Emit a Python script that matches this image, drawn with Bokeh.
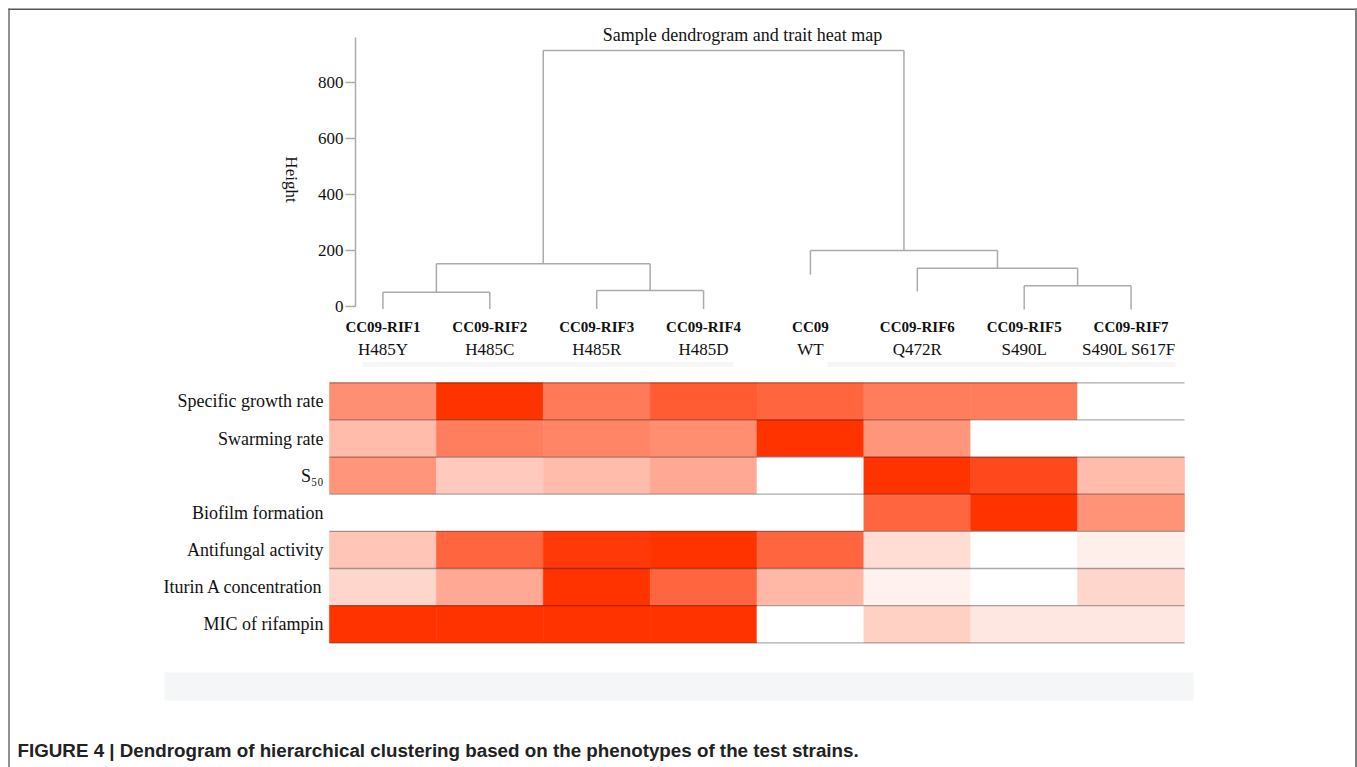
import numpy as np
from bokeh.plotting import figure
from bokeh.models import ColumnDataSource, Range1d, LinearAxis, FixedTicker, LinearColorMapper
from bokeh.core.properties import value
from bokeh.embed import file_html
from bokeh.resources import INLINE

# ---------------- data ----------------
strains = ["CC09-RIF1", "CC09-RIF2", "CC09-RIF3", "CC09-RIF4", "CC09",
           "CC09-RIF6", "CC09-RIF5", "CC09-RIF7"]
mutations = ["H485Y", "H485C", "H485R", "H485D", "WT", "Q472R", "S490L", "S490L  S617F"]
traits = ["Specific growth rate", "Swarming rate", "S\u2085\u2080", "Biofilm formation",
          "Antifungal activity", "Iturin A concentration", "MIC of rifampin"]

# relative trait intensity (0 = white, 1 = full red), columns follow `strains`
growth_rate = [0.55, 1.00, 0.65, 0.80, 0.75, 0.64, 0.64, 0.00]
swarming_rate = [0.33, 0.63, 0.60, 0.56, 1.00, 0.52, 0.00, 0.00]
s50 = [0.52, 0.26, 0.33, 0.42, 0.00, 1.00, 0.89, 0.33]
biofilm = [0.00, 0.00, 0.00, 0.00, 0.00, 0.75, 1.00, 0.53]
antifungal = [0.28, 0.75, 0.97, 1.00, 0.75, 0.17, 0.00, 0.08]
iturin_a = [0.20, 0.42, 1.00, 0.75, 0.35, 0.07, 0.00, 0.20]
mic_rifampin = [1.00, 1.00, 1.00, 1.00, 0.00, 0.23, 0.12, 0.12]
trait_values = [growth_rate, swarming_rate, s50, biofilm, antifungal, iturin_a, mic_rifampin]

# dendrogram (leaves 0..7 = strains in order; new nodes numbered from 8)
merge_left = [0, 2, 8, 6, 5, 4, 10]
merge_right = [1, 3, 9, 7, 11, 12, 13]
merge_height = [51, 57, 153, 74, 137, 200, 916]
leaf_tip = [-9, -9, -9, -9, 114, 54, -11, -11]
height_ticks = [0, 200, 400, 600, 800]

# ---------------- geometry (page pixels) ----------------
W, H = 1357, 767
OFF = 0
SX = 106.875          # px per column
SY = 37.14            # px per heatmap row
SH = 0.2796           # px per height unit
x_start = -0.5 - (329 - OFF) / SX
x_end = x_start + W / SX
n_rows = len(traits)
y_end = (n_rows - 0.5) + (382.3 - OFF) / SY
y_start = y_end - H / SY
h_end = (306 - OFF) / SH
h_start = h_end - H / SH


def X(px):
    return x_start + (px - OFF) / SX


def Y(py):
    return y_end - (py - OFF) / SY


p = figure(width=W, height=H, output_backend="svg", toolbar_location=None,
           x_axis_type=None, y_axis_type=None,
           x_range=Range1d(x_start, x_end), y_range=Range1d(y_start, y_end),
           min_border=0, min_border_left=0, min_border_right=0,
           min_border_top=0, min_border_bottom=0)
p.outline_line_color = None
p.xgrid.visible = False
p.ygrid.visible = False
p.background_fill_color = "white"
p.border_fill_color = "white"
p.extra_y_ranges = {"h": Range1d(h_start, h_end)}

SERIF = value("Liberation Serif")

# background decorations
p.quad(left=[X(164)], right=[X(1193)], top=[Y(672)], bottom=[Y(700)],
       fill_color="#f5f6f8", line_color=None)
p.quad(left=[X(362), X(827)], right=[X(733), X(1175)], top=[Y(361.5), Y(361.5)],
       bottom=[Y(366.5), Y(366.5)], fill_color="#f6f6f6", line_color=None)

# ---------------- heatmap ----------------
palette = ["#%02x%02x%02x" % (255, round(255 - t * 204), round(255 - t * 255))
           for t in np.linspace(0, 1, 256)]
mapper = LinearColorMapper(palette=palette, low=0, high=1)
row_y = [n_rows - 1 - i for i in range(n_rows)]
cx, cy, cv = [], [], []
for r, vals in enumerate(trait_values):
    for c, v in enumerate(vals):
        cx.append(c)
        cy.append(row_y[r])
        cv.append(v)
hm = ColumnDataSource(dict(x=cx, y=cy, v=cv))
p.rect(x="x", y="y", width=1, height=1, source=hm,
       fill_color={"field": "v", "transform": mapper},
       line_color={"field": "v", "transform": mapper}, line_width=0.6)

n_cols = len(strains)
bounds_y = [n_rows - 0.5 - i for i in range(n_rows + 1)]
p.segment(x0=[-0.5] * len(bounds_y), x1=[n_cols - 0.5] * len(bounds_y),
          y0=bounds_y, y1=bounds_y, line_color="#000000", line_alpha=0.33, line_width=1.3)

rax = LinearAxis(fixed_location=-0.5, ticker=FixedTicker(ticks=row_y),
                 major_label_overrides={row_y[i]: traits[i] for i in range(n_rows)})
rax.axis_line_color = None
rax.major_tick_line_color = None
rax.minor_tick_line_color = None
rax.major_tick_out = 0
rax.major_tick_in = 0
rax.major_label_standoff = 6
rax.major_label_text_font = "Liberation Serif"
rax.major_label_text_font_size = "18px"
rax.major_label_text_color = "#111111"
p.add_layout(rax, "left")

# ---------------- dendrogram ----------------
node_x = list(range(n_cols))
node_h = list(leaf_tip)
x0s, x1s, y0s, y1s = [], [], [], []
for a, b, hgt in zip(merge_left, merge_right, merge_height):
    for child in (a, b):
        x0s.append(node_x[child]); x1s.append(node_x[child])
        y0s.append(node_h[child]); y1s.append(hgt)
    x0s.append(node_x[a]); x1s.append(node_x[b]); y0s.append(hgt); y1s.append(hgt)
    node_x.append((node_x[a] + node_x[b]) / 2)
    node_h.append(hgt)
p.segment(x0=x0s, x1=x1s, y0=y0s, y1=y1s, y_range_name="h",
          line_color="#ababab", line_width=1.5)

hax = LinearAxis(y_range_name="h", fixed_location=X(355),
                 ticker=FixedTicker(ticks=height_ticks), bounds=(0, 962))
hax.axis_line_color = "#ababab"
hax.axis_line_width = 1.5
hax.major_tick_line_color = "#ababab"
hax.major_tick_line_width = 1.4
hax.minor_tick_line_color = None
hax.major_tick_out = 10
hax.major_tick_in = 0
hax.major_label_standoff = 2
hax.major_label_text_font = "Liberation Serif"
hax.major_label_text_font_size = "17px"
hax.major_label_text_color = "#111111"
p.add_layout(hax, "left")

p.text(x=[X(291)], y=[Y(179)], text=["Height"], angle=-np.pi / 2,
       text_font=SERIF, text_font_size=value("17px"), text_color="#111111",
       text_align="center", text_baseline="middle")

# leaf labels
p.text(x=list(range(n_cols)), y=[Y(326.5)] * n_cols, text=strains,
       text_font=SERIF, text_font_size=value("15px"), text_font_style="bold",
       text_color="#111111", text_align="center", text_baseline="middle")
p.text(x=list(range(n_cols)), y=[Y(348.5)] * n_cols, text=mutations,
       text_font=SERIF, text_font_size=value("17px"), text_color="#111111",
       text_align="center", text_baseline="middle")

# title
p.text(x=[X(742)], y=[Y(34)], text=["Sample dendrogram and trait heat map"],
       text_font=SERIF, text_font_size=value("18px"), text_color="#111111",
       text_align="center", text_baseline="middle")

# caption
p.text(x=[X(17)], y=[Y(750)],
       text=["FIGURE 4 | Dendrogram of hierarchical clustering based on the phenotypes of the test strains."],
       text_font=value("Liberation Sans"), text_font_size=value("18.8px"), text_font_style="bold",
       text_color="#222222", text_align="left", text_baseline="middle")

# frame border
p.segment(x0=[X(8), X(8.5), X(1355.5)], x1=[X(1357), X(8.5), X(1355.5)],
          y0=[Y(8.7), Y(8), Y(8)], y1=[Y(8.7), Y(767), Y(767)],
          line_color=["#555555", "#555555", "#7f7f7f"], line_width=[1.5, 1.3, 2])

open("out.html", "w").write(file_html(p, INLINE))
